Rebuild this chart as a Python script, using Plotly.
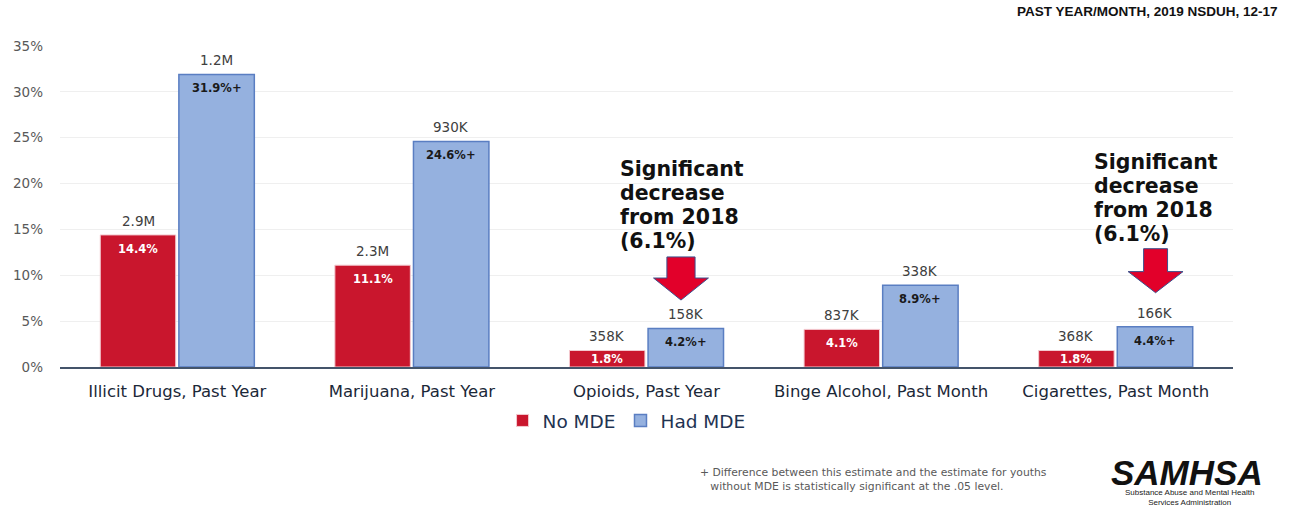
import plotly.graph_objects as go

# Substance use among youths aged 12-17, by major depressive episode status
categories = ["Illicit Drugs, Past Year", "Marijuana, Past Year", "Opioids, Past Year",
              "Binge Alcohol, Past Month", "Cigarettes, Past Month"]
no_mde_pct = [14.4, 11.1, 1.8, 4.1, 1.8]
had_mde_pct = [31.9, 24.6, 4.2, 8.9, 4.4]
no_mde_counts = ["2.9M", "2.3M", "358K", "837K", "368K"]
had_mde_counts = ["1.2M", "930K", "158K", "338K", "166K"]
had_mde_sig = ["+", "+", "+", "+", "+"]
y_ticks = [0, 5, 10, 15, 20, 25, 30, 35]
callout_lines = ["Significant", "decrease", "from 2018", "(6.1%)"]

RED = "#C9162D"
BLUE = "#95B1DF"
BLUE_EDGE = "#5A7EC2"
FONT = "DejaVu Sans"

x_idx = list(range(len(categories)))
BARGAP = 0.33
OFFSET = (1 - BARGAP) / 4  # centre of each bar relative to its category

fig = go.Figure()
fig.add_bar(x=x_idx, y=no_mde_pct, name="No MDE",
            marker=dict(color=RED, line=dict(color="#F3C9CF", width=1)))
fig.add_bar(x=x_idx, y=had_mde_pct, name="Had MDE",
            marker=dict(color=BLUE, line=dict(color=BLUE_EDGE, width=1.5)))

annotations = []


def value_labels(pcts, counts, suffixes, dx, pct_color):
    for i, (v, c, s) in enumerate(zip(pcts, counts, suffixes)):
        xi = i + dx
        annotations.append(dict(x=xi, y=v, xref="x", yref="y", text=c, showarrow=False,
                                yanchor="bottom", yshift=4,
                                font=dict(family=FONT, size=13.5, color="#404040")))
        label = f"<b>{v:.1f}%</b>" + (f"<b>{s}</b>" if s else "")
        if v < 3:
            annotations.append(dict(x=xi, y=v / 2, xref="x", yref="y", text=label,
                                    showarrow=False, yanchor="middle",
                                    font=dict(family=FONT, size=11.5, color=pct_color)))
        else:
            annotations.append(dict(x=xi, y=v, xref="x", yref="y", text=label,
                                    showarrow=False, yanchor="top", yshift=-5,
                                    font=dict(family=FONT, size=11.5, color=pct_color)))


value_labels(no_mde_pct, no_mde_counts, [""] * 5, -OFFSET, "white")
value_labels(had_mde_pct, had_mde_counts, had_mde_sig, OFFSET, "#1A1A1A")

# callouts for the significant decreases from 2018, one line at a time
for xi, yi in [(1.878, 21.6), (3.899, 22.35)]:
    for k, line in enumerate(callout_lines):
        annotations.append(dict(x=xi, y=yi, xref="x", yref="y", text=f"<b>{line}</b>",
                                showarrow=False, xanchor="left", yanchor="middle",
                                yshift=-24 * k,
                                font=dict(family=FONT, size=20.5, color="#111111")))

# source line, footnote and agency mark
annotations += [
    dict(x=1.04, y=1.0, xref="paper", yref="paper", xanchor="right", yanchor="bottom",
         yshift=25, text="<b>PAST YEAR/MONTH, 2019 NSDUH, 12-17</b>", showarrow=False,
         font=dict(family="Liberation Sans", size=13.5, color="#111111")),
    dict(x=0.544, y=-0.302, xref="paper", yref="paper", xanchor="left", yanchor="top",
         align="left",
         text="+ Difference between this estimate and the estimate for youths<br>"
              "   without MDE is statistically significant at the .05 level.",
         showarrow=False, font=dict(family=FONT, size=10.8, color="#595959")),
    dict(x=1.0, y=-0.262, xref="paper", yref="paper", xanchor="center", yanchor="top",
         xshift=-46, text="<b><i>SAMHSA</i></b>", showarrow=False,
         font=dict(family="Liberation Sans", size=35, color="#111111")),
    dict(x=1.0, y=-0.37, xref="paper", yref="paper", xanchor="center", yanchor="top",
         xshift=-44, text="Substance Abuse and Mental Health<br>Services Administration",
         showarrow=False, font=dict(family="Liberation Sans", size=8, color="#222222")),
]

# block arrows pointing at the Had MDE bars
shapes = []
for cx, shaft, top, neck, tip in [(2.147, 0.060, 12.0, 9.7, 7.3), (4.17, 0.051, 12.9, 10.4, 8.1)]:
    head = 0.117
    path = (f"M {cx - shaft},{top} L {cx + shaft},{top} L {cx + shaft},{neck} "
            f"L {cx + head},{neck} L {cx},{tip} L {cx - head},{neck} L {cx - shaft},{neck} Z")
    shapes.append(dict(type="path", path=path, xref="x", yref="y",
                       fillcolor="#E2002A", line=dict(color="#3B4F8C", width=1)))

fig.update_layout(
    width=1289, height=506,
    margin=dict(l=60, r=56, t=46, b=139),
    paper_bgcolor="white", plot_bgcolor="white",
    barmode="group", bargap=BARGAP, bargroupgap=0.04,
    font=dict(family=FONT, color="#253549"),
    showlegend=True,
    legend=dict(orientation="h", x=0.483, xanchor="center", y=-0.168, yanchor="middle",
                font=dict(family=FONT, size=18.5, color="#1F3352"), itemwidth=30,
                traceorder="normal"),
    annotations=annotations,
    shapes=shapes,
    xaxis=dict(range=[-0.5, 4.5], tickvals=x_idx, ticktext=categories, showgrid=False,
               showline=True, linecolor="#44546A", linewidth=1.5, ticks="",
               ticklabelstandoff=8, tickfont=dict(family=FONT, size=16.5, color="#1B2838"),
               zeroline=False, fixedrange=True),
    yaxis=dict(range=[0, 35], tickvals=y_ticks, ticktext=[f"{t}%" for t in y_ticks],
               showgrid=True, gridcolor="#EFEFEF", gridwidth=1, zeroline=False, showline=False,
               ticks="", ticklabelstandoff=16,
               tickfont=dict(family=FONT, size=13.5, color="#595959")),
)

fig.write_html("out.html")
